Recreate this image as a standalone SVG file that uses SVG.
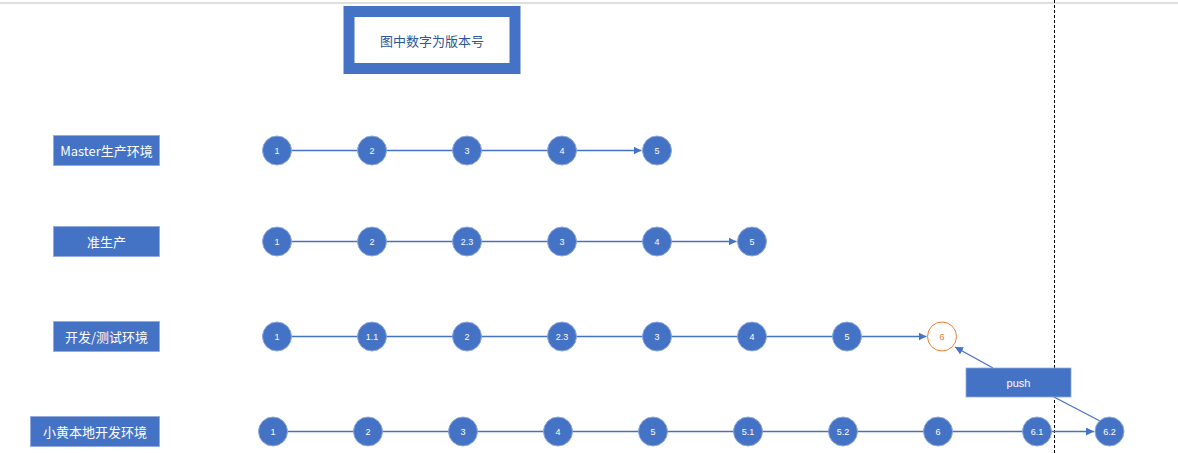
<svg xmlns="http://www.w3.org/2000/svg" width="1178" height="453" viewBox="0 0 1178 453">
<style>
.lbl rect{fill:#4472C4;stroke:#8FAADC;stroke-width:0.8}
.lbl text{fill:#fff;font-family:"Microsoft YaHei","Noto Sans CJK SC",sans-serif;font-size:13px;text-anchor:middle;dominant-baseline:central}
.n circle{fill:#4472C4;stroke:#8FAADC;stroke-width:1}
.n text{fill:#fff;font-family:"Liberation Sans","Noto Sans CJK SC",sans-serif;font-size:9px;text-anchor:middle;dominant-baseline:central}
.c line{stroke:#4472C4;stroke-width:1.3;fill:none}
</style>
<defs>
<marker id="ar" viewBox="0 0 10 10" refX="10" refY="5" markerWidth="8" markerHeight="8" markerUnits="userSpaceOnUse" orient="auto"><path d="M0,0 L10,5 L0,10 z" fill="#4472C4"/></marker>
</defs>
<rect width="1178" height="453" fill="#fff"/>
<line x1="0" y1="3" x2="1178" y2="3" stroke="#BFBFBF" stroke-width="1"/>
<line x1="1054.5" y1="0" x2="1054.5" y2="453" stroke="#000" stroke-width="1" stroke-dasharray="3,2"/>
<g id="title">
<rect x="349" y="11.5" width="166" height="57" fill="#fff" stroke="#4472C4" stroke-width="11"/>
<text x="432" y="40" fill="#2F5597" font-family="Microsoft YaHei,Noto Sans CJK SC,sans-serif" font-size="13" text-anchor="middle" dominant-baseline="central">图中数字为版本号</text>
</g>
<g id="labels">
<g id="lbl-master" class="lbl"><rect x="53.5" y="135.5" width="106" height="30"/><text x="106.5" y="150.5">Master生产环境</text></g>
<g id="lbl-pre" class="lbl"><rect x="53.5" y="226.5" width="106" height="30"/><text x="106.5" y="241.5">准生产</text></g>
<g id="lbl-dev" class="lbl"><rect x="53.5" y="321.5" width="106" height="30"/><text x="106.5" y="336.5">开发/测试环境</text></g>
<g id="lbl-local" class="lbl"><rect x="30.5" y="416.5" width="129" height="30"/><text x="95" y="431.5">小黄本地开发环境</text></g>
</g>
<g id="connectors" class="c">
<line x1="291.5" y1="150.5" x2="641.5" y2="150.5" marker-end="url(#ar)"/>
<line x1="291.5" y1="241.5" x2="736.5" y2="241.5" marker-end="url(#ar)"/>
<line x1="291.5" y1="336.5" x2="926.5" y2="336.5" marker-end="url(#ar)"/>
<line x1="287.5" y1="431.5" x2="1094" y2="431.5" marker-end="url(#ar)"/>
<line x1="993" y1="368" x2="955" y2="347" marker-end="url(#ar)"/>
<line x1="1054" y1="397" x2="1100" y2="421"/>
</g>
<g id="push"><rect x="966" y="368" width="105" height="29" fill="#4472C4" stroke="#8FAADC" stroke-width="0.8"/><text x="1018.5" y="382.5" fill="#fff" font-family="Liberation Sans,sans-serif" font-size="11" text-anchor="middle" dominant-baseline="central">push</text></g>
<g id="row-master">
<g id="m1" class="n"><circle cx="277" cy="150.5" r="14.5"/><text x="277" y="150.5">1</text></g>
<g id="m2" class="n"><circle cx="372" cy="150.5" r="14.5"/><text x="372" y="150.5">2</text></g>
<g id="m3" class="n"><circle cx="467" cy="150.5" r="14.5"/><text x="467" y="150.5">3</text></g>
<g id="m4" class="n"><circle cx="562" cy="150.5" r="14.5"/><text x="562" y="150.5">4</text></g>
<g id="m5" class="n"><circle cx="657" cy="150.5" r="14.5"/><text x="657" y="150.5">5</text></g>
</g>
<g id="row-pre">
<g id="p1" class="n"><circle cx="277" cy="241.5" r="14.5"/><text x="277" y="241.5">1</text></g>
<g id="p2" class="n"><circle cx="372" cy="241.5" r="14.5"/><text x="372" y="241.5">2</text></g>
<g id="p3" class="n"><circle cx="467" cy="241.5" r="14.5"/><text x="467" y="241.5">2.3</text></g>
<g id="p4" class="n"><circle cx="562" cy="241.5" r="14.5"/><text x="562" y="241.5">3</text></g>
<g id="p5" class="n"><circle cx="657" cy="241.5" r="14.5"/><text x="657" y="241.5">4</text></g>
<g id="p6" class="n"><circle cx="752" cy="241.5" r="14.5"/><text x="752" y="241.5">5</text></g>
</g>
<g id="row-dev">
<g id="d1" class="n"><circle cx="277" cy="336.5" r="14.5"/><text x="277" y="336.5">1</text></g>
<g id="d2" class="n"><circle cx="372" cy="336.5" r="14.5"/><text x="372" y="336.5">1.1</text></g>
<g id="d3" class="n"><circle cx="467" cy="336.5" r="14.5"/><text x="467" y="336.5">2</text></g>
<g id="d4" class="n"><circle cx="562" cy="336.5" r="14.5"/><text x="562" y="336.5">2.3</text></g>
<g id="d5" class="n"><circle cx="657" cy="336.5" r="14.5"/><text x="657" y="336.5">3</text></g>
<g id="d6" class="n"><circle cx="752" cy="336.5" r="14.5"/><text x="752" y="336.5">4</text></g>
<g id="d7" class="n"><circle cx="847" cy="336.5" r="14.5"/><text x="847" y="336.5">5</text></g>
<g id="d8"><circle cx="942" cy="336.5" r="14.5" fill="#fff" stroke="#ED7D31" stroke-width="1"/><text x="942" y="336.5" fill="#ED7D31" font-family="Liberation Sans,sans-serif" font-size="9" text-anchor="middle" dominant-baseline="central">6</text></g>
</g>
<g id="row-local">
<g id="l1" class="n"><circle cx="273" cy="431.5" r="14.5"/><text x="273" y="431.5">1</text></g>
<g id="l2" class="n"><circle cx="368" cy="431.5" r="14.5"/><text x="368" y="431.5">2</text></g>
<g id="l3" class="n"><circle cx="463" cy="431.5" r="14.5"/><text x="463" y="431.5">3</text></g>
<g id="l4" class="n"><circle cx="558" cy="431.5" r="14.5"/><text x="558" y="431.5">4</text></g>
<g id="l5" class="n"><circle cx="653" cy="431.5" r="14.5"/><text x="653" y="431.5">5</text></g>
<g id="l6" class="n"><circle cx="748" cy="431.5" r="14.5"/><text x="748" y="431.5">5.1</text></g>
<g id="l7" class="n"><circle cx="843" cy="431.5" r="14.5"/><text x="843" y="431.5">5.2</text></g>
<g id="l8" class="n"><circle cx="938" cy="431.5" r="14.5"/><text x="938" y="431.5">6</text></g>
<g id="l9" class="n"><circle cx="1037" cy="431.5" r="14.5"/><text x="1037" y="431.5">6.1</text></g>
<g id="l10" class="n"><circle cx="1109.5" cy="431.5" r="14.5"/><text x="1109.5" y="431.5">6.2</text></g>
</g>
</svg>
